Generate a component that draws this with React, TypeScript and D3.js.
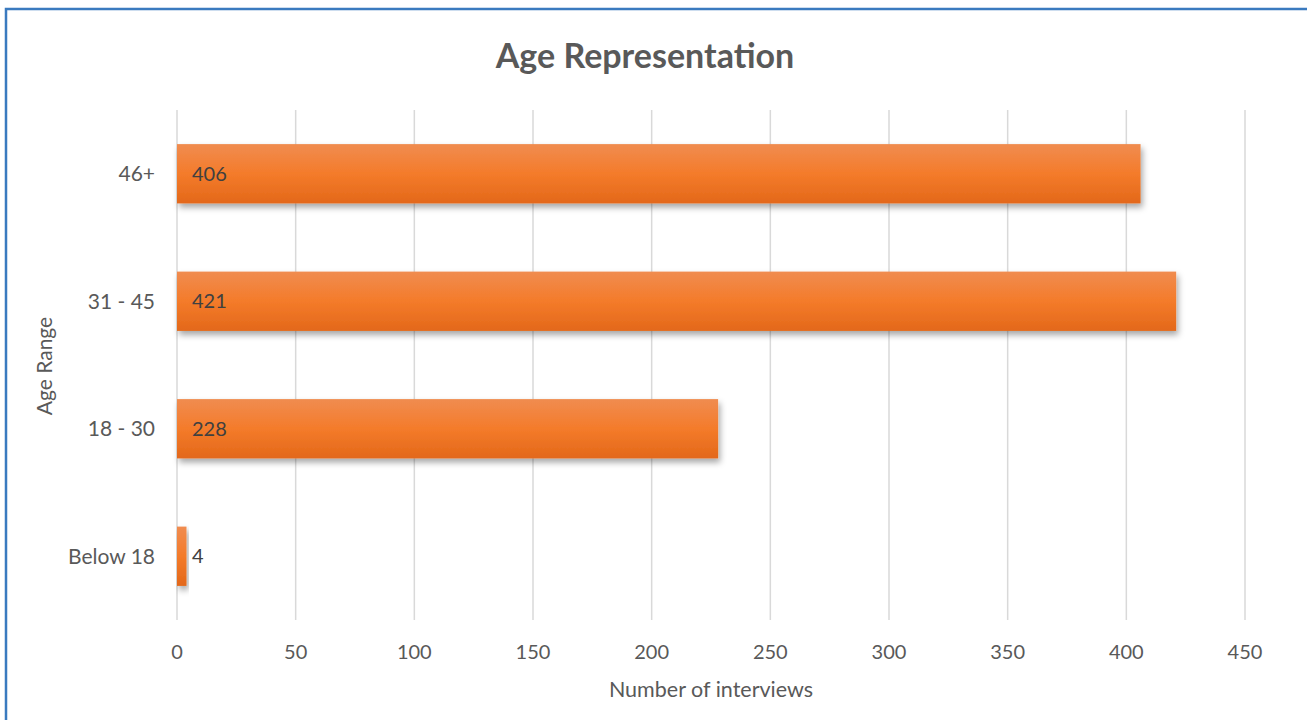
import * as d3 from "d3";

const categories = ["46+", "31 - 45", "18 - 30", "Below 18"];
const interviews = [406, 421, 228, 4];
const xTicks = [0, 50, 100, 150, 200, 250, 300, 350, 400, 450];

const W = 1307;
const H = 720;
const FONT = "Lato, 'Open Sans', sans-serif";

const App = () => {
  const x = d3.scaleLinear().domain([0, 450]).range([177, 1245]);
  const y = d3.scaleBand<string>().domain(categories).range([110, 620]);
  const barH = y.bandwidth() / 2.15;

  return (
    <svg
      width={W}
      height={H}
      style={{ position: "absolute", left: 0, top: 0, background: "#fff" }}
    >
      <defs>
        <linearGradient id="barFill" x1="0" y1="0" x2="0" y2="1">
          <stop offset="0%" stopColor="#f08c50" />
          <stop offset="50%" stopColor="#f47b2a" />
          <stop offset="100%" stopColor="#e3681a" />
        </linearGradient>
        <filter id="shadow" x="-10%" y="-20%" width="130%" height="170%">
          <feDropShadow dx="2" dy="4" stdDeviation="3" floodColor="#000" floodOpacity="0.35" />
        </filter>
      </defs>

      {/* frame */}
      <rect x={6} y={9} width={W + 20} height={H + 20} fill="none" stroke="#3a7abf" strokeWidth={2.5} />

      <text
        x={645}
        y={68}
        textAnchor="middle"
        fontFamily={FONT}
        fontWeight="bold"
        fontSize={34}
        fill="#595959"
      >
        Age Representation
      </text>

      {/* grid */}
      {xTicks.map((t) => (
        <line key={t} x1={x(t)} x2={x(t)} y1={110} y2={620} stroke="#d9d9d9" strokeWidth={1.5} />
      ))}

      {/* bars */}
      {categories.map((c, i) => {
        const cy = (y(c) as number) + y.bandwidth() / 2;
        return (
          <g key={c}>
            <rect
              x={x(0)}
              y={cy - barH / 2}
              width={x(interviews[i]) - x(0)}
              height={barH}
              fill="url(#barFill)"
              filter="url(#shadow)"
            />
            <text
              x={x(0) + 15}
              y={cy}
              dy="0.35em"
              fontFamily={FONT}
              fontSize={20}
              fill="#404040"
            >
              {interviews[i]}
            </text>
            <text
              x={155}
              y={cy}
              dy="0.35em"
              textAnchor="end"
              fontFamily={FONT}
              fontSize={21}
              fill="#595959"
            >
              {c}
            </text>
          </g>
        );
      })}

      {/* x tick labels */}
      {xTicks.map((t) => (
        <text
          key={t}
          x={x(t)}
          y={652}
          dy="0.35em"
          textAnchor="middle"
          fontFamily={FONT}
          fontSize={20}
          fill="#595959"
        >
          {t}
        </text>
      ))}

      <text
        x={711}
        y={689}
        dy="0.35em"
        textAnchor="middle"
        fontFamily={FONT}
        fontSize={21.5}
        fill="#595959"
      >
        Number of interviews
      </text>

      <text
        transform="translate(45,366) rotate(-90)"
        dy="0.35em"
        textAnchor="middle"
        fontFamily={FONT}
        fontSize={21}
        fill="#595959"
      >
        Age Range
      </text>
    </svg>
  );
};

export default App;
